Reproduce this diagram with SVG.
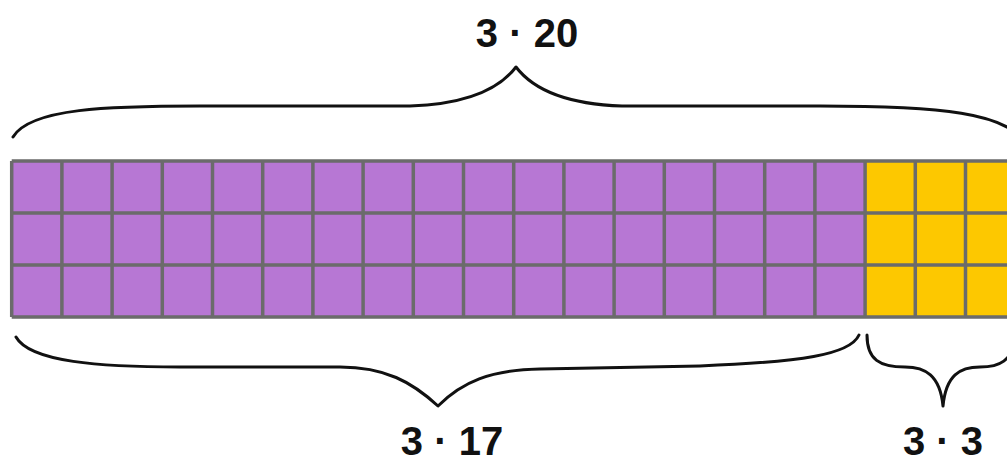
<svg xmlns="http://www.w3.org/2000/svg" width="1007" height="457" viewBox="0 0 1007 457">
<style>
.grid{stroke:#6b6b6b;stroke-width:3.5;fill:none}
.brace{stroke:#111;stroke-width:3;fill:none;stroke-linecap:round;stroke-linejoin:round}
.lbl{font-family:"Liberation Sans",Arial,sans-serif;font-weight:bold;font-size:40px;fill:#111;text-anchor:middle}
</style>
<g id="purple-block">
<rect x="11.7" y="161" width="853.4" height="156" fill="#b777d4"/>
</g>
<g id="yellow-block">
<rect x="865.1" y="161" width="150" height="156" fill="#fdc800"/>
</g>
<g id="grid-lines" class="grid">
<path d="M11.7 161H1015M11.7 213H1015M11.7 265H1015M11.7 317H1015"/>
<path d="M11.7 161V317M61.9 161V317M112.1 161V317M162.3 161V317M212.5 161V317M262.7 161V317M312.9 161V317M363.1 161V317M413.3 161V317M463.5 161V317M513.7 161V317M563.9 161V317M614.1 161V317M664.3 161V317M714.5 161V317M764.7 161V317M814.9 161V317M865.1 161V317M915.3 161V317M965.5 161V317"/>
</g>
<g id="connectors">
<path id="brace-top" class="brace" d="M13 137 C30 108 110 106 200 106 L410 106 C470 104 500 88 516 67 C532 88 562 104 622 106 L820 106 C950 106 1000 115 1020 137"/>
<path id="brace-17" class="brace" d="M16 337 C30 362 100 367 180 367 L340 367 C385 367 412 382 438 406 C462 382 490 370 540 369 L700 366 C800 362 850 355 859 335"/>
<path id="brace-3" class="brace" d="M867 335 C867 360 880 367 905 367 C925 367 940 375 943 406 C946 375 960 367 980 367 C1000 367 1010 362 1020 335"/>
</g>
<g id="label-3-20"><text class="lbl" x="527" y="47">3 · 20</text></g>
<g id="label-3-17"><text class="lbl" x="452" y="455">3 · 17</text></g>
<g id="label-3-3"><text class="lbl" x="943" y="455">3 · 3</text></g>
</svg>
